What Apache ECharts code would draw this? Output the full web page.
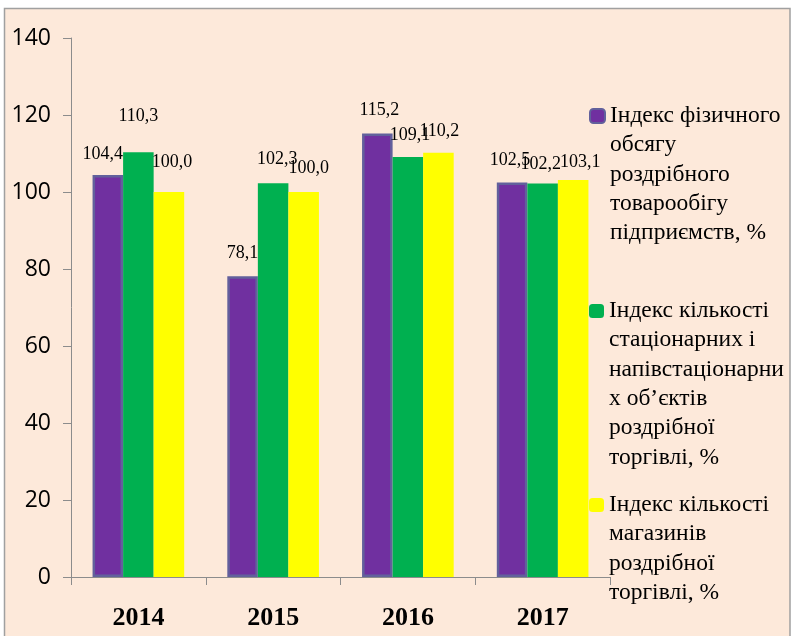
<!DOCTYPE html>
<html><head><meta charset="utf-8">
<script src="https://cdn.jsdelivr.net/npm/echarts@6/dist/echarts.min.js"></script>
<style>html,body{margin:0;padding:0;background:#fff;}#c{width:791px;height:636px;}</style>
</head><body><div id="c"></div>
<script>
// ---- data ----
const categories = ['2014', '2015', '2016', '2017'];
const seriesNames = [
  'Індекс фізичного\nобсягу\nроздрібного\nтоварообігу\nпідприємств, %',
  'Індекс кількості\nстаціонарних і\nнапівстаціонарни\nх об’єктів\nроздрібної\nторгівлі, %',
  'Індекс кількості\nмагазинів\nроздрібної\nторгівлі, %'
];
const physVolume   = [104.4, 78.1, 115.2, 102.5];
const outletsCount = [110.3, 102.3, 109.1, 102.2];
const storesCount  = [100.0, 100.0, 110.2, 103.1];
const yMin = 0, yMax = 140, yInterval = 20;

// ---- label nudges [dx, dy] (layout only) ----
const physNudge    = [[-5, -12], [0, -14], [2, -14], [-2, -13]];
const outletsNudge = [[0, -27], [4, -15], [2, -13], [-2, -10]];
const storesNudge  = [[3, -21], [5, -15], [1, -12], [7, -9]];

const fmt = v => v.toFixed(1).replace('.', ',');
const colors = ['#7030A0', '#00B050', '#FFFF00'];
const values = [physVolume, outletsCount, storesCount];
const nudges = [physNudge, outletsNudge, storesNudge];

const series = values.map((vals, si) => ({
  name: seriesNames[si],
  type: 'bar',
  barGap: '0%',
  barCategoryGap: '32%',
  itemStyle: si === 0 ? { color: colors[si], borderColor: '#62609C', borderWidth: 2.5 } : { color: colors[si] },
  data: vals.map((v, i) => ({
    value: v,
    label: { offset: nudges[si][i] }
  })),
  label: {
    show: true, position: 'top', distance: 0,
    formatter: p => fmt(p.value),
    fontFamily: 'Liberation Serif', fontSize: 18, color: '#000'
  }
}));

const LH = 29.3;
const iconCenters = [116, 311, 505];
const legends = seriesNames.map((nm, i) => {
  const n = nm.split('\n').length;
  return {
    data: [nm], left: 589, top: iconCenters[i] - (2 * n - 1) * LH / 2,
    orient: 'vertical', itemWidth: 15, itemHeight: 14, itemGap: 0, padding: 0,
    selectedMode: false,
    formatter: name => '\n'.repeat(n - 1) + name,
    textStyle: { fontFamily: 'Liberation Serif', fontSize: 23.5, lineHeight: LH, color: '#000' }
  };
});

const chart = echarts.init(document.getElementById('c'));
chart.setOption({
  animation: false,
  backgroundColor: '#ffffff',
  graphic: [{ type: 'rect', silent: true, z: -10,
    shape: { x: 4.5, y: 8.5, width: 785.5, height: 640 },
    style: { fill: '#FDE9DA', stroke: '#A0A0A0', lineWidth: 1.5 } }],
  grid: { left: 71, right: 181, top: 38, bottom: 59 },
  legend: legends,
  xAxis: {
    type: 'category', data: categories,
    axisLine: { lineStyle: { color: '#8C8C8C', width: 1 } },
    axisTick: { show: true, length: 8, lineStyle: { color: '#8C8C8C' } },
    axisLabel: { fontFamily: 'Liberation Serif', fontWeight: 'bold', fontSize: 26, color: '#000', margin: 28 }
  },
  yAxis: {
    type: 'value', min: yMin, max: yMax, interval: yInterval,
    axisLine: { show: true, lineStyle: { color: '#8C8C8C', width: 1 } },
    axisTick: { show: true, length: 8, lineStyle: { color: '#8C8C8C' } },
    splitLine: { show: false },
    axisLabel: { fontFamily: 'Open Sans', fontSize: 23, color: '#000', margin: 20 }
  },
  series: series
});
</script></body></html>
